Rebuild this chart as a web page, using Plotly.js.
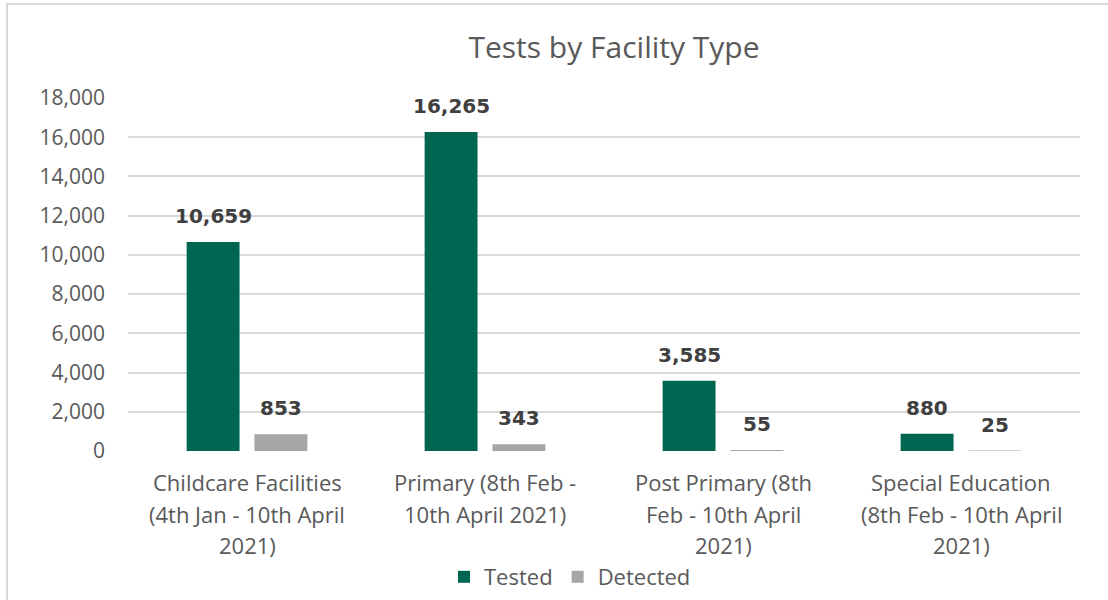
<!DOCTYPE html>
<html>
<head>
<meta charset="utf-8">
<script src="https://cdn.plot.ly/plotly-3.0.1.min.js"></script>
<style>
  html, body { margin: 0; padding: 0; background: #ffffff; }
  #wrap { position: relative; width: 1108px; height: 600px; overflow: hidden; }
  #chart { position: absolute; left: 0; top: 0; width: 1108px; height: 600px; }
  #frame { position: absolute; left: 6px; top: 3px; width: 1200px; height: 700px;
           border-left: 2px solid #d9d9d9; border-top: 2px solid #d9d9d9; pointer-events: none; }
</style>
</head>
<body>
<div id="wrap">
  <div id="chart"></div>
  <div id="frame"></div>
</div>
<script>
const categories = [
  "Childcare Facilities<br>(4th Jan - 10th April<br>2021)",
  "Primary (8th Feb -<br>10th April 2021)",
  "Post Primary (8th<br>Feb - 10th April<br>2021)",
  "Special Education<br>(8th Feb - 10th April<br>2021)"
];
const seriesNames = ["Tested", "Detected"];
const tested = [10659, 16265, 3585, 880];
const detected = [853, 343, 55, 25];
const yTickValues = [0, 2000, 4000, 6000, 8000, 10000, 12000, 14000, 16000, 18000];

const W = 1108, H = 600;
const margin = { l: 128, r: 28, t: 98, b: 149 };
const bargap = 0.43, bargroupgap = 0.22;
const plotW = W - margin.l - margin.r;
const catW = plotW / categories.length;
const slotW = catW * (1 - bargap) / 2;

const labelFont = { family: "DejaVu Sans", size: 20, color: "#404040", weight: "bold" };
const axisFont = { family: "Open Sans", size: 22, color: "#595959" };

const traces = [
  { type: "bar", name: seriesNames[0], x: categories, y: tested,
    marker: { color: "#006652" }, hoverinfo: "skip" },
  { type: "bar", name: seriesNames[1], x: categories, y: detected,
    marker: { color: "#a6a6a6" }, hoverinfo: "skip" }
];

const annotations = [];
// data labels above bars
[tested, detected].forEach((vals, s) => {
  vals.forEach((v, i) => {
    annotations.push({
      xref: "x", yref: "y", x: categories[i], y: v,
      xshift: (s === 0 ? -1 : 1) * slotW / 2, yshift: 12,
      xanchor: "center", yanchor: "bottom", showarrow: false,
      text: "<b>" + v.toLocaleString("en-US") + "</b>", font: labelFont
    });
  });
});
// category labels, one annotation per line for Excel-like line spacing
categories.forEach((c) => {
  c.split("<br>").forEach((line, k) => {
    annotations.push({
      xref: "x", yref: "y", x: c, y: 0, yshift: -(31 + 31.5 * k),
      xanchor: "center", yanchor: "middle", showarrow: false,
      text: line, font: axisFont
    });
  });
});

const layout = {
  width: W, height: H, margin: margin,
  paper_bgcolor: "rgba(0,0,0,0)", plot_bgcolor: "rgba(0,0,0,0)",
  font: { family: "Open Sans", color: "#595959", size: 21 },
  title: { text: "Tests by Facility Type", font: { family: "Open Sans", size: 30, color: "#595959" },
           x: 614 / W, xanchor: "center", y: 1 - 47 / H, yanchor: "middle" },
  barmode: "group", bargap: bargap, bargroupgap: bargroupgap,
  showlegend: true,
  legend: { orientation: "h", xref: "container", yref: "container", x: 570 / W, y: 1 - 577 / H,
            xanchor: "center", yanchor: "middle", font: { family: "Open Sans", size: 22, color: "#595959" } },
  annotations: annotations,
  xaxis: { showgrid: false, showline: false, ticks: "", showticklabels: false, fixedrange: true },
  yaxis: { range: [0, 18000], tickvals: yTickValues, tickformat: ",d", showgrid: true,
           gridcolor: "#d9d9d9", gridwidth: 2, zeroline: false, showline: false, ticks: "",
           tickfont: { family: "Open Sans", size: 21, color: "#595959" }, ticklabelstandoff: 22, fixedrange: true }
};

Plotly.newPlot("chart", traces, layout, { displayModeBar: false, staticPlot: true });
</script>
</body>
</html>
